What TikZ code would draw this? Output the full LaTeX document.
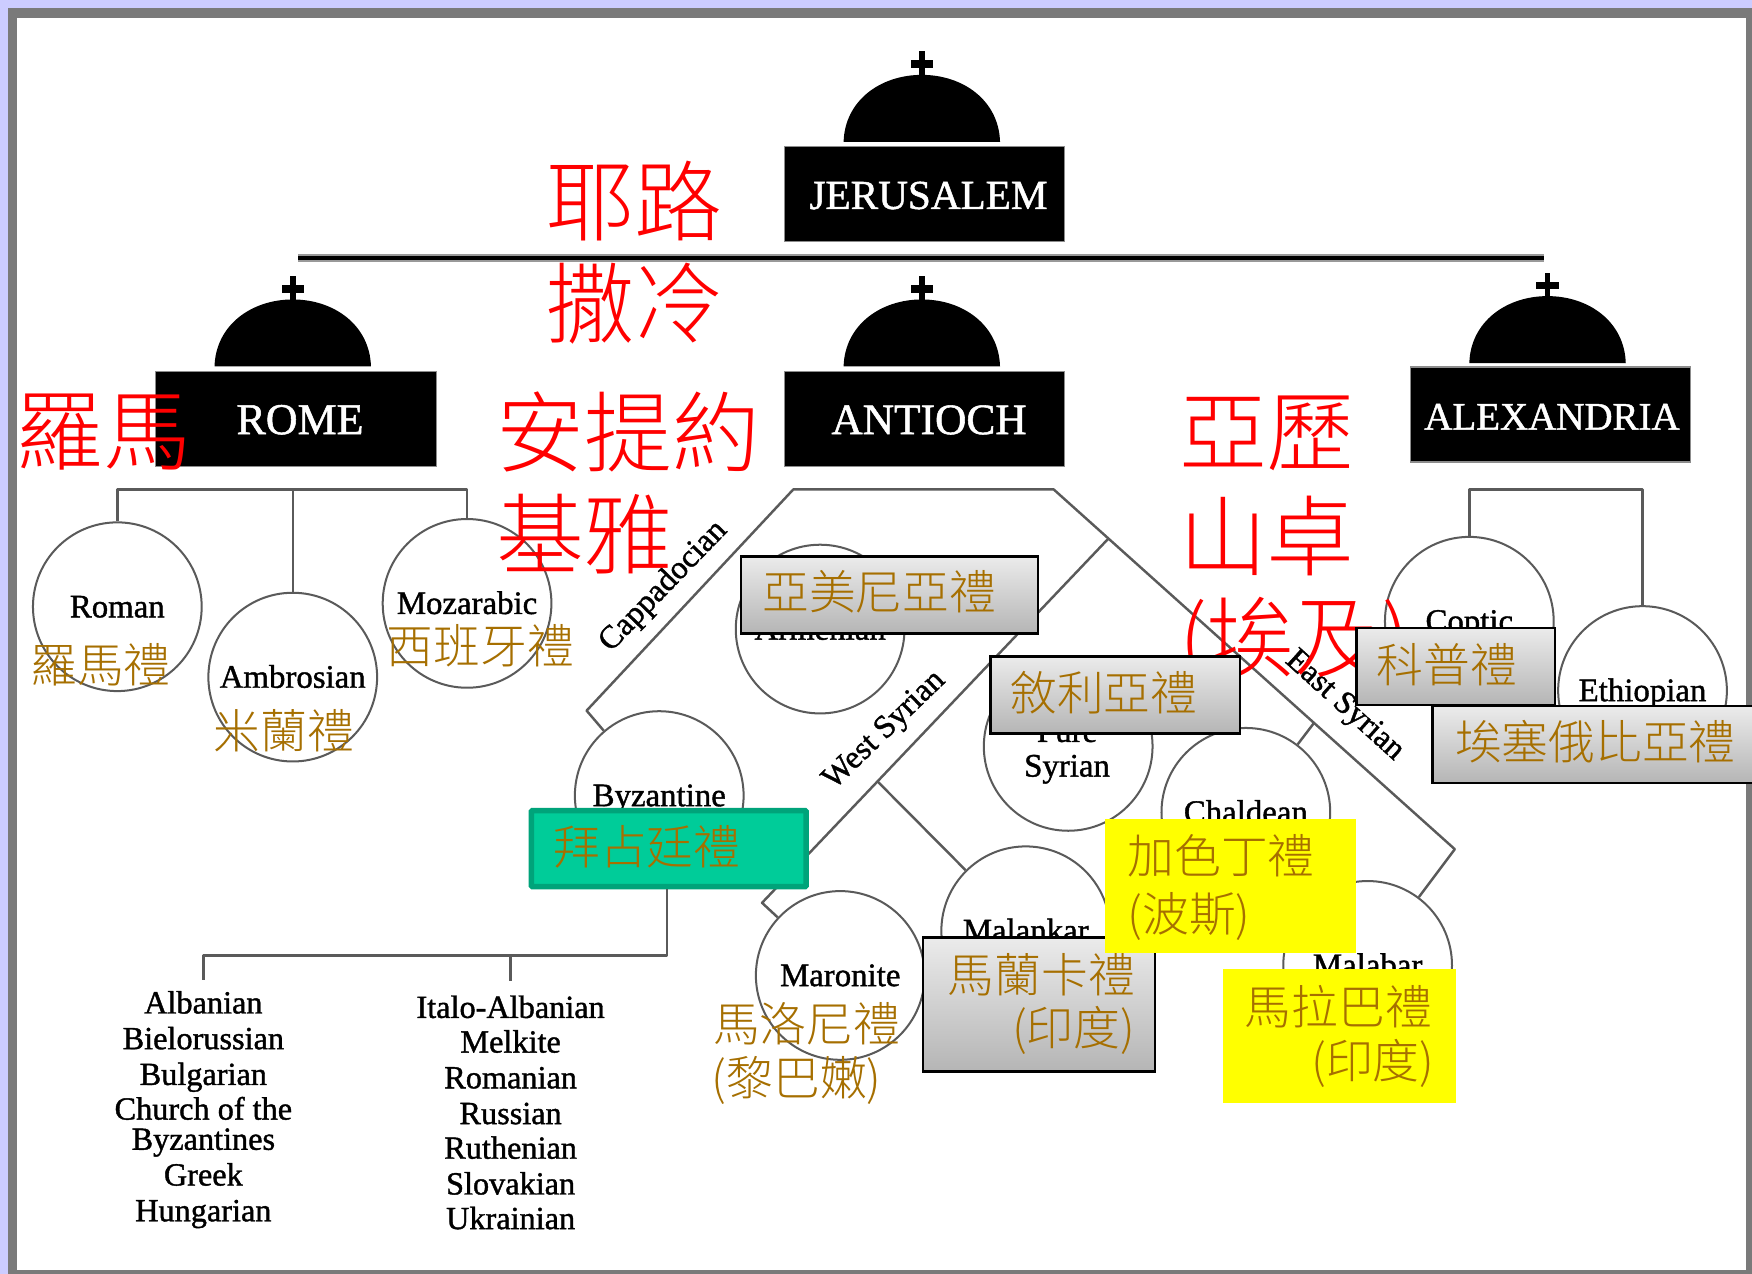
\documentclass[tikz,border=0pt]{standalone}
\usepackage{fontspec}
\setmainfont{Liberation Serif}[FakeBold=1.2]
\newfontfamily\cjk{Noto Sans CJK TC Light}
\definecolor{brownlabel}{HTML}{A66F00}
\definecolor{linegrey}{HTML}{5A5A5A}
\definecolor{lavender}{HTML}{CCCCFF}
\definecolor{framegrey}{HTML}{7A7A7A}
\definecolor{tealgreen}{HTML}{00CC99}
\definecolor{tealdark}{HTML}{00A37A}
\definecolor{pureyellow}{HTML}{FFFF00}
\definecolor{purered}{HTML}{FF0000}
\definecolor{boxtop}{HTML}{EBEBEB}
\definecolor{boxbottom}{HTML}{B5B5B5}
\newcommand{\dome}[3]{% x, base y, name
  \fill[black] (#1-70,#2) .. controls (#1-69,#2-37) and (#1-37,#2-60) .. (#1,#2-60) .. controls (#1+37,#2-60) and (#1+69,#2-37) .. (#1+70,#2) -- cycle;
  \fill[black] (#1-2.5,#2-81) rectangle (#1+2.5,#2-58);
  \fill[black] (#1-10,#2-73) rectangle (#1+10,#2-66);
  \coordinate (#3) at (#1,#2);
}
\tikzset{
  patriarch/.style={fill=black,draw=black!45,line width=1pt,minimum width=251bp,minimum height=85bp,inner sep=0pt,text=white,text height=27bp,text depth=0pt},
  rite/.style={circle,draw=linegrey,line width=1.8pt,minimum size=151bp,inner sep=0pt,font=\fontsize{29.5}{31}\selectfont,text height=19bp,text depth=0pt},
  conn/.style={draw=linegrey,line width=2.2pt,line join=round},
  redlabel/.style={anchor=west,inner sep=0pt,text=purered,font=\cjk\fontsize{79}{80}\selectfont},
  brlabel/.style={anchor=west,inner sep=0pt,text=brownlabel,font=\cjk\fontsize{42}{46}\selectfont},
  greybox/.style={draw=black,line width=2pt,top color=boxtop,bottom color=boxbottom,inner sep=0pt,anchor=north west},
  yellowbox/.style={fill=pureyellow,inner sep=0pt,anchor=north west},
  listitem/.style={inner sep=0pt,font=\fontsize{29}{31}\selectfont,text height=18bp,text depth=0pt},
  branchlabel/.style={inner sep=0pt,font=\fontsize{29}{31}\selectfont}
}
\begin{document}
\begin{tikzpicture}[x=1bp,y=-1bp]
\useasboundingbox (0,0) rectangle (1568,1140);
% frame
\fill[lavender] (0,0) rectangle (1568,1140);
\fill[framegrey] (7,7) rectangle (1568,1140);
\fill[white] (15,16) rectangle (1563,1137);
% domes and patriarchates
\dome{825}{127}{djer}
\dome{262}{328}{drom}
\dome{825}{328}{dant}
\dome{1385}{325}{dale}
\node[patriarch,font=\fontsize{37}{40}\selectfont] (jer) at (827.5,173.5) {\hspace{7bp}JERUSALEM};
\node[patriarch,font=\fontsize{39.5}{40}\selectfont] (rom) at (265,375) {\hspace{7bp}ROME};
\node[patriarch,font=\fontsize{39}{40}\selectfont] (ant) at (827.5,375) {\hspace{8bp}ANTIOCH};
\node[patriarch,font=\fontsize{35}{40}\selectfont] (ale) at (1387.5,371) {\hspace{3bp}ALEXANDRIA};
\coordinate (barL) at (267,231);
\coordinate (barR) at (1382,231);
\draw[black!40,line width=6.5pt] (barL) -- (barR);
\draw[black,line width=4pt] (barL) -- (barR);
% circles
\node[rite] (roman) at (105,543) {Roman};
\node[rite] (ambrosian) at (262,606) {Ambrosian};
\node[rite] (mozarabic) at (418,540) {Mozarabic};
\node[rite] (armenian) at (734,563) {Armenian};
\node[rite] (byzantine) at (590,712) {Byzantine};
\node[rite] (puresyrian) at (956,668) {};
\node[listitem,font=\fontsize{29.5}{31}\selectfont] (pureword) at (955,655) {Pure};
\node[listitem,font=\fontsize{29.5}{31}\selectfont] (syrianword) at (955,686) {Syrian};
\node[rite] (chaldean) at (1115,727) {Chaldean};
\node[rite] (malankar) at (918,833) {Malankar};
\node[rite] (maronite) at (752,873) {Maronite};
\node[rite] (malabar) at (1224,864) {Malabar};
\node[rite] (coptic) at (1315,556) {Coptic};
\node[rite] (ethiopian) at (1470,618) {Ethiopian};
% Rome tree
\coordinate (romeL) at (105,438);
\coordinate (romeM) at (262,438);
\coordinate (romeR) at (418,438);
\draw[conn] (roman.north) -- (romeL) -- (romeR) -- (mozarabic.north);
\draw[conn] (romeM) -- (ambrosian.north);
% Antioch tree
\coordinate (antA) at (710,438);
\coordinate (antB) at (943,438);
\coordinate (cappEnd) at (525,636);
\coordinate (eastEnd) at (1302,760);
\coordinate (westTop) at (992,482);
\coordinate (westJ) at (786,700);
\coordinate (westEnd) at (682,808);
\coordinate (eastJ) at (1176,647);
\draw[conn] (byzantine) -- (cappEnd) -- (antA) -- (antB) -- (eastEnd) -- (malabar);
\draw[conn] (westTop) -- (westEnd) -- (maronite);
\draw[conn] (westJ) -- (malankar);
\draw[conn] (eastJ) -- (chaldean);
% Alexandria tree
\coordinate (aleL) at (1315,438);
\coordinate (aleR) at (1470,438);
\draw[conn] (coptic.north) -- (aleL) -- (aleR) -- (ethiopian.north);
% branch labels
\node[branchlabel,rotate=46] (capp) at (594,525) {Cappadocian};
\node[branchlabel,rotate=44] (wsyr) at (792,654) {West Syrian};
\node[branchlabel,rotate=-42] (esyr) at (1203,632) {East Syrian};
% red labels
\node[redlabel] (l1) at (489,180) {耶路};
\node[redlabel] (l2) at (489,272) {撒冷};
\node[redlabel] (l3) at (14,387) {羅馬};
\node[redlabel] (l4) at (444,387) {安提約};
\node[redlabel] (l5) at (444,478) {基雅};
\node[redlabel] (l6) at (1055,388) {亞歷};
\node[redlabel] (l7) at (1055,480) {山卓};
\node[redlabel] (l8) at (1055,575) {(埃及)};
% plain brown labels
\node[brlabel] (b1) at (27,595) {羅馬禮};
\node[brlabel] (b2) at (346,578) {西班牙禮};
\node[brlabel] (b3) at (191,654) {米蘭禮};
\node[brlabel] (b4) at (638,916) {馬洛尼禮};
\node[brlabel] (b5) at (637,967) {(黎巴嫩)};
% Byzantine branch
\coordinate (byzDown) at (597,855);
\coordinate (byzL) at (182,855);
\coordinate (byzLd) at (182,877);
\coordinate (byzM) at (457,855);
\coordinate (byzMd) at (457,878);
\node[fill=tealgreen,draw=tealdark,line width=5pt,rounded corners=1pt,minimum width=246bp,minimum height=68bp,inner sep=0pt] (byzbox) at (598.5,759.5) {};
\draw[conn] (byzbox.south -| byzDown) -- (byzDown) -- (byzL) -- (byzLd);
\draw[conn] (byzM) -- (byzMd);
\node[brlabel] at (495,758) {拜占廷禮};
% boxes
\node[greybox,minimum width=266bp,minimum height=69bp] (armbox) at (662,497) {};
\node[brlabel] at (682,530) {亞美尼亞禮};
\node[greybox,minimum width=223bp,minimum height=69bp] (syrbox) at (885.5,586.5) {};
\node[brlabel] at (904,620) {敘利亞禮};
\node[greybox,minimum width=178bp,minimum height=69bp] (copbox) at (1213,561) {};
\node[brlabel] at (1232,595) {科普禮};
\node[greybox,minimum width=290bp,minimum height=69bp] (ethbox) at (1281,631) {};
\node[brlabel] at (1302,664) {埃塞俄比亞禮};
\node[greybox,minimum width=208bp,minimum height=120bp] (malbox) at (825,838) {};
\node[brlabel] at (848,872) {馬蘭卡禮};
\node[brlabel,anchor=east] at (1016,922) {(印度)};
\node[yellowbox,minimum width=224bp,minimum height=120bp] (chabox) at (989,733) {};
\node[brlabel] at (1009,766) {加色丁禮};
\node[brlabel] at (1009,820) {(波斯)};
\node[yellowbox,minimum width=209bp,minimum height=120bp] (mlbbox) at (1094,867) {};
\node[brlabel] at (1114,901) {馬拉巴禮};
\node[brlabel,anchor=east] at (1284,952) {(印度)};
% lists
\node[listitem] (a1) at (182,898) {Albanian};
\node[listitem] (a2) at (182,930) {Bielorussian};
\node[listitem] (a3) at (182,962) {Bulgarian};
\node[listitem] (a4) at (182,993) {Church of the};
\node[listitem] (a5) at (182,1020) {Byzantines};
\node[listitem] (a6) at (182,1052) {Greek};
\node[listitem] (a7) at (182,1084) {Hungarian};
\node[listitem] (i1) at (457,902) {Italo-Albanian};
\node[listitem] (i2) at (457,933) {Melkite};
\node[listitem] (i3) at (457,965) {Romanian};
\node[listitem] (i4) at (457,997) {Russian};
\node[listitem] (i5) at (457,1028) {Ruthenian};
\node[listitem] (i6) at (457,1060) {Slovakian};
\node[listitem] (i7) at (457,1091) {Ukrainian};
\end{tikzpicture}
\end{document}
